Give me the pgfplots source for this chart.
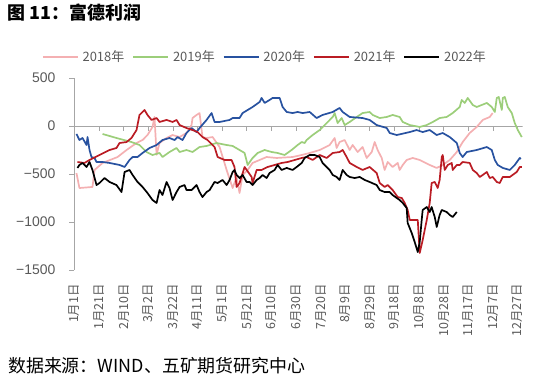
\documentclass[border=0pt]{standalone}
\usepackage{fontspec}
\setmainfont{Noto Sans CJK SC}
\newfontfamily\arial{Liberation Sans}
\usepackage{pgfplots}
\pgfplotsset{compat=1.18}
\definecolor{c18}{RGB}{244,176,178}
\definecolor{c19}{RGB}{156,206,122}
\definecolor{c20}{RGB}{40,82,160}
\definecolor{c21}{RGB}{186,28,36}
\definecolor{c22}{RGB}{0,0,0}
\definecolor{axgray}{RGB}{166,166,166}
\definecolor{txt}{RGB}{89,89,89}
\begin{document}
\begin{tikzpicture}
\path[use as bounding box] (-74.5bp,-117bp) rectangle (464.5bp,270bp);
\begin{axis}[
  at={(0,0)}, anchor=south west, scale only axis,
  width=448bp, height=192bp,
  xmin=0, xmax=364, ymin=-1500, ymax=500,
  axis y line*=left, axis x line*=bottom,
  x axis line style={draw=none},
  y axis line style={axgray, line width=0.8bp},
  xtick={0,20,...,360},
  xticklabels={1月1日,1月21日,2月10日,3月2日,3月22日,4月11日,5月1日,5月21日,6月10日,6月30日,7月20日,8月9日,8月29日,9月18日,10月8日,10月28日,11月17日,12月7日,12月27日},
  xtick style={draw=none},
  xticklabel style={yshift=-9bp, rotate=90, anchor=east, font=\fontsize{12.5}{12.5}\selectfont, text=txt, inner sep=0pt},
  ytick={-1500,-1000,-500,0,500},
  yticklabels={−1500,−1000,−500,0,500},
  ytick style={axgray, line width=0.8bp},
  tick align=outside, major tick length=5bp,
  yticklabel style={font=\arial\fontsize{14}{14}\selectfont, text=txt, xshift=-14bp, inner sep=0pt},
  legend columns=5,
  legend style={at={(0.425,1.11)}, anchor=center, draw=none, fill=none,
    font=\fontsize{13}{13}\selectfont, text=txt,
    /tikz/every even column/.append style={column sep=6bp},
    /tikz/every odd column/.append style={column sep=2bp},
    inner sep=0pt},
  legend image code/.code={\draw[#1] (0bp,0bp) -- (35bp,0bp);},
  every axis plot/.append style={line width=1.7bp, line join=round},
]
\draw[axgray, line width=0.8bp] (axis cs:0,0) -- (axis cs:364,0);
\pgfplotsinvokeforeach{20,40,60,80,100,120,140,160,180,200,220,240,260,280,300,320,340,360}{
  \draw[axgray, line width=0.8bp] (axis cs:#1,0) -- (axis cs:#1,-52);
}
% 2018
\addplot[c18] coordinates {
(1.6,-490)(4,-646)(14.6,-635)(16.3,-458)(22.8,-385)(35,-323)(42.3,-250)(50.4,-177)(55.3,-146)(59.3,-94)(63.4,-10)(65,94)(66.7,-300)(69.1,-177)(74.8,-125)(79.7,-94)(85.4,-115)(91,-73)(95.1,10)(95.9,83)(99.2,115)(101.6,135)(104,-115)(107.3,-125)(112.2,-115)(117.9,-219)(123.6,-458)(128.5,-646)(131.7,-531)(134.1,-698)(136.6,-510)(140.7,-458)(144.7,-385)(150.4,-354)(156.1,-323)(164.2,-333)(177.2,-323)(184.6,-302)(191.1,-281)(199.2,-250)(207.3,-198)(211.4,-125)(213,-229)(215.4,-167)(219.5,-146)(223.6,-250)(226,-198)(230.1,-271)(234.1,-219)(237.4,-333)(241.5,-271)(243.9,-167)(246.3,-250)(249.6,-333)(252,-458)(254.5,-375)(258.5,-427)(262.6,-385)(264.2,-458)(266.7,-406)(269.9,-354)(274.8,-333)(280.5,-354)(288.6,-406)(294.3,-437)(299.2,-406)(304.9,-354)(310.6,-271)(315.4,-167)(321.1,-73)(326.8,-10)(331.7,63)(337.4,94)(339.8,135)
};
\addlegendentry{2018年}
% 2019
\addplot[c19] coordinates {
(22.8,-83)(34.1,-125)(46.3,-167)(52.8,-198)(58.5,-271)(63.4,-302)(69.1,-281)(71.5,-323)(77.2,-271)(82.9,-229)(85.4,-271)(91,-250)(95.9,-271)(101.6,-219)(107.3,-208)(115.4,-177)(123.6,-198)(128.5,-208)(134.1,-250)(138.2,-281)(140.7,-406)(144.7,-333)(148.8,-281)(154.5,-250)(160.2,-271)(165,-281)(170.7,-302)(176.4,-250)(181.3,-198)(184.6,-167)(187,-177)(188.6,-146)(193.5,-94)(199.2,-42)(204.9,31)(209.8,94)(211.4,135)(213.8,31)(217.1,83)(219.5,10)(223.6,42)(229.3,94)(234.1,135)(239.8,146)(242.3,115)(248,83)(253.7,94)(258.5,115)(264.2,94)(266.7,42)(272.4,10)(280.5,-10)(286.2,10)(291.1,42)(296.7,83)(302.4,94)(307.3,135)(313,198)(314.6,271)(317.1,240)(319.5,292)(323.6,219)(326.8,198)(330.9,219)(335,240)(339,198)(341.5,146)(343.1,292)(344.7,302)(347.2,167)(348,292)(349.6,302)(352,198)(355.3,135)(357.7,31)(360.2,-42)(363.4,-115)
};
\addlegendentry{2019年}
% 2020
\addplot[c20] coordinates {
(1.6,-83)(4,-146)(6.5,-125)(9.8,-198)(10.6,-115)(12.2,-250)(13.8,-323)(16.3,-333)(17.9,-375)(22.8,-375)(28.5,-385)(36.6,-406)(40.7,-427)(44.7,-354)(47.2,-323)(51.2,-323)(55.3,-281)(61,-229)(66.7,-198)(71.5,-146)(77.2,-125)(81.3,-146)(83.7,-115)(87.8,-146)(91,-73)(95.1,-21)(99.2,-63)(101.6,-21)(107.3,63)(111.4,135)(113.8,42)(117.9,42)(126,63)(128.5,83)(134.1,83)(136.6,135)(140.7,167)(144.7,198)(150.4,250)(152,292)(154.5,240)(158.5,271)(161,292)(166.7,292)(169.1,198)(172.4,146)(177.2,135)(181.3,146)(185.4,135)(191.1,146)(196.7,83)(201.6,115)(209.8,146)(215.4,188)(217.9,146)(223.6,94)(234.1,83)(239.8,63)(245.5,10)(253.7,-21)(256.1,-73)(261.8,-94)(272.4,-63)(278,-42)(282.9,-63)(288.6,-42)(294.3,-94)(299.2,-73)(304.9,-115)(310.6,-177)(313,-281)(315.4,-323)(318.7,-271)(326.8,-250)(335,-219)(339,-250)(341.5,-354)(343.9,-406)(348,-437)(353.7,-458)(357.7,-406)(361.8,-333)(362.6,-344)
};
\addlegendentry{2020年}
% 2021
\addplot[c21] coordinates {
(2.4,-375)(8.1,-385)(12.2,-354)(20.3,-302)(28.5,-250)(34.1,-229)(36.6,-177)(42.3,-167)(46.3,-125)(50.4,-42)(52.8,115)(55.3,146)(56.9,167)(59.3,115)(62.6,63)(66.7,83)(69.1,42)(74.8,63)(79.7,42)(82.9,63)(85.4,10)(91,-21)(95.9,-42)(100,-63)(104,-115)(108.1,-146)(113.8,-219)(116.3,-323)(122,-354)(127.6,-354)(130,-427)(131.7,-635)(134.1,-594)(138.2,-427)(143.9,-531)(144.7,-594)(148,-458)(152,-458)(156.9,-427)(162.6,-406)(168.3,-385)(173.2,-375)(178.9,-354)(184.6,-333)(188.6,-323)(193.5,-354)(199.2,-302)(204.9,-333)(209.8,-281)(215.4,-271)(217.9,-250)(221.1,-323)(223.6,-385)(229.3,-427)(234.1,-458)(239.8,-427)(245.5,-490)(248,-594)(252,-635)(254.5,-615)(258.5,-667)(262.6,-740)(265.9,-750)(268.3,-802)(270.7,-875)(272.4,-979)(278.9,-979)(280.5,-1323)(282.9,-1188)(286.2,-979)(288.6,-802)(290.2,-594)(292.7,-583)(295.1,-646)(296.7,-562)(298.4,-323)(299.2,-302)(300.8,-458)(303.3,-406)(306.5,-385)(307.3,-458)(310.6,-406)(313,-406)(315.4,-375)(321.1,-385)(323.6,-458)(326.8,-490)(329.3,-531)(331.7,-510)(335,-479)(337.4,-542)(339.8,-531)(343.1,-583)(345.5,-594)(348,-531)(353.7,-531)(359.3,-479)(361.8,-427)(363.4,-427)
};
\addlegendentry{2021年}
% 2022
\addplot[c22] coordinates {
(2.4,-437)(4,-406)(6.5,-385)(9.8,-427)(12.2,-375)(14.6,-458)(17.9,-615)(20.3,-594)(24.4,-542)(28.5,-583)(34.1,-615)(38.2,-688)(40.7,-479)(44.7,-458)(47.2,-510)(51.2,-583)(55.3,-635)(59.3,-698)(63.4,-771)(66.7,-802)(69.1,-667)(71.5,-719)(74.8,-583)(77.2,-646)(79.7,-771)(82.9,-688)(85.4,-635)(89.4,-615)(91,-667)(95.1,-667)(99.2,-615)(101.6,-688)(104,-740)(107.3,-688)(109.8,-667)(113.8,-583)(116.3,-594)(120.3,-562)(123.6,-615)(126,-562)(128.5,-479)(130,-458)(131.7,-510)(134.1,-542)(136.6,-510)(139.8,-583)(142.3,-583)(144.7,-615)(148,-562)(150.4,-542)(152.8,-510)(156.1,-542)(158.5,-490)(162.6,-458)(165,-406)(168.3,-458)(172.4,-437)(177.2,-458)(180.5,-427)(184.6,-385)(187,-333)(191.1,-302)(195.1,-302)(199.2,-323)(201.6,-385)(204.9,-427)(207.3,-458)(209.8,-510)(213,-531)(215.4,-562)(217.9,-458)(221.1,-510)(223.6,-531)(227.6,-542)(231.7,-531)(235.8,-562)(239.8,-583)(245.5,-615)(248,-667)(252,-688)(256.1,-688)(258.5,-719)(261.8,-750)(264.2,-771)(266.7,-802)(269.9,-854)(270.7,-1010)(274,-1115)(276.4,-1208)(278.9,-1313)(280.5,-1208)(282.1,-979)(282.9,-875)(286.2,-844)(288.6,-896)(290.2,-844)(292.7,-948)(294.3,-1052)(296.7,-927)(298.4,-875)(302.4,-896)(304.9,-927)(307.3,-948)(310.6,-896)
};
\addlegendentry{2022年}
\end{axis}
\node[anchor=north west, inner sep=0pt, font=\bfseries\fontsize{18}{18}\selectfont] at (-67bp,266bp) {图 11：富德利润};
\node[anchor=west, inner sep=0pt, font=\fontsize{18}{18}\selectfont] at (-66.5bp,-96bp) {数据来源：WIND、五矿期货研究中心};
\end{tikzpicture}
\end{document}
